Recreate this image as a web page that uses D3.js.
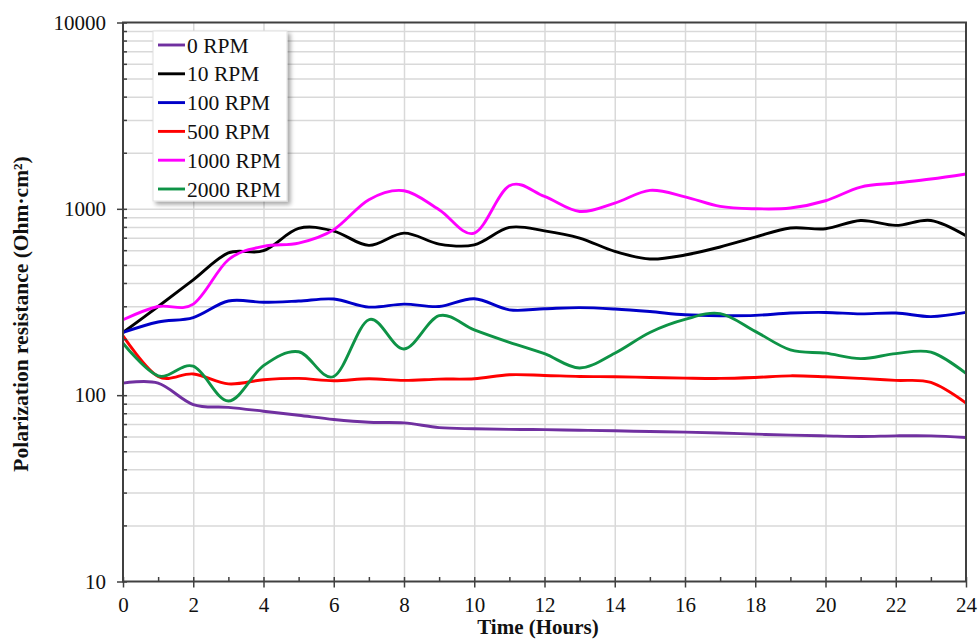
<!DOCTYPE html>
<html>
<head>
<meta charset="utf-8">
<script src="https://cdn.jsdelivr.net/npm/d3@7/dist/d3.min.js"></script>
<style>
html,body{margin:0;padding:0;background:#fff;}
svg{display:block;font-family:"Liberation Serif","Times New Roman",serif;}
</style>
</head>
<body>
<svg id="chart" width="980" height="640"></svg>
<script>
const hours = [0,1,2,3,4,5,6,7,8,9,10,11,12,13,14,15,16,17,18,19,20,21,22,23,24];
const seriesNames = ["0 RPM","10 RPM","100 RPM","500 RPM","1000 RPM","2000 RPM"];
const rpm0    = [116,116,89,86,82,78,74,71.5,71,67,66,65.5,65.3,64.8,64.4,63.8,63.3,62.7,61.8,61,60.5,60,60.5,60.5,59.3];
const rpm10   = [217,299,416,580,596,785,760,637,741,647,641,795,762,697,591,538,565,624,705,789,782,866,815,866,717];
const rpm100  = [217,247,261,320,315,320,328,297,308,299,329,287,291,295,290,281,270,267,268,276,278,273,276,264,278];
const rpm500  = [208,126,130,115,121,123,119.5,122.5,120,122,122.5,128.7,127.6,126,125.5,124.5,123.5,123,124.5,127,125.5,123,120,117,90.7];
const rpm1000 = [254,299,308,533,629,655,773,1120,1250,989,741,1330,1166,968,1073,1256,1160,1030,1001,1010,1105,1309,1375,1445,1538];
const rpm2000 = [190,127,143,93,144,171,126,254,177,267,224,192,167,140,168,217,255,274,220,175,168,157,167,170,131];
const xTicks = [0,2,4,6,8,10,12,14,16,18,20,22,24];
const xMinorTicks = [1,3,5,7,9,11,13,15,17,19,21,23];
const yTicks = [10,100,1000,10000];
const yTitle = "Polarization resistance (Ohm\u00B7cm\u00B2)";
const xTitle = "Time (Hours)";

const colors = ["#7030A0","#000000","#0000C8","#FF0000","#FF00FF","#0E9346"];
const allSeries = [rpm0,rpm10,rpm100,rpm500,rpm1000,rpm2000];

const L = 123, R = 966, T = 22.5, B = 581.5;
const svg = d3.select("#chart");
const x = d3.scaleLinear().domain([0,24]).range([L,R]);
const y = d3.scaleLog().domain([10,10000]).range([B,T]);

// minor log values
const yMinor = [];
[10,100,1000].forEach(d => { for (let k=2;k<=9;k++) yMinor.push(d*k); });

// horizontal grid
svg.append("g").attr("transform",`translate(${L},0)`)
  .call(d3.axisLeft(y).tickValues(yMinor.concat([100,1000])).tickSize(-(R-L)).tickFormat(""))
  .call(g => g.select(".domain").remove())
  .call(g => g.selectAll("line").attr("stroke","#d9d9d9").attr("stroke-width",1.5));
// vertical grid
svg.append("g").attr("transform",`translate(0,${B})`)
  .call(d3.axisBottom(x).tickValues(xTicks.slice(1,-1)).tickSize(-(B-T)).tickFormat(""))
  .call(g => g.select(".domain").remove())
  .call(g => g.selectAll("line").attr("stroke","#d9d9d9").attr("stroke-width",1.5));

// lines
const line = d3.line().x((d,i)=>x(hours[i])).y(d=>y(d)).curve(d3.curveCardinal.tension(0));
allSeries.forEach((s,i)=>{
  svg.append("path").datum(s).attr("d",line).attr("fill","none")
    .attr("stroke",colors[i]).attr("stroke-width",2.9).attr("stroke-linejoin","round");
});

// frame
svg.append("rect").attr("x",L).attr("y",T).attr("width",R-L).attr("height",B-T)
  .attr("fill","none").attr("stroke","#404040").attr("stroke-width",2);

// y axis
svg.append("g").attr("transform",`translate(${L},0)`)
  .call(d3.axisLeft(y).tickValues(yTicks).tickSize(6).tickPadding(11).tickFormat(d3.format("d")))
  .call(g => g.select(".domain").remove())
  .call(g => g.selectAll("line").attr("stroke","#404040").attr("stroke-width",1.5))
  .call(g => g.selectAll("text").attr("font-size",21).attr("fill","#111").attr("font-family","Liberation Serif"));
svg.append("g").attr("transform",`translate(${L},0)`)
  .call(d3.axisRight(y).tickValues(yTicks.concat(yMinor)).tickSize(4).tickFormat(""))
  .call(g => g.select(".domain").remove())
  .call(g => g.selectAll("line").attr("stroke","#404040").attr("stroke-width",1.5));

// x axis
svg.append("g").attr("transform",`translate(0,${B})`)
  .call(d3.axisBottom(x).tickValues(xTicks).tickSize(6).tickPadding(10).tickFormat(d3.format("d")))
  .call(g => g.select(".domain").remove())
  .call(g => g.selectAll("line").attr("stroke","#404040").attr("stroke-width",1.5))
  .call(g => g.selectAll("text").attr("font-size",21).attr("fill","#111").attr("font-family","Liberation Serif"));
svg.append("g").attr("transform",`translate(0,${B})`)
  .call(d3.axisTop(x).tickValues(xTicks.concat(xMinorTicks)).tickSize(4.5).tickFormat(""))
  .call(g => g.select(".domain").remove())
  .call(g => g.selectAll("line").attr("stroke","#404040").attr("stroke-width",1.5));

// titles
svg.append("text").attr("x",538).attr("y",634).attr("text-anchor","middle")
  .attr("font-weight","bold").attr("font-size",21).attr("fill","#111").text(xTitle);
svg.append("text").attr("transform",`translate(28,${314}) rotate(-90)`).attr("text-anchor","middle")
  .attr("font-weight","bold").attr("font-size",21.5).attr("fill","#111").text(yTitle);

// legend
const defs = svg.append("defs");
const f = defs.append("filter").attr("id","shadow").attr("x","-10%").attr("y","-10%").attr("width","130%").attr("height","130%");
f.append("feDropShadow").attr("dx",3).attr("dy",3).attr("stdDeviation",2).attr("flood-color","#000").attr("flood-opacity",0.35);
const lg = svg.append("g");
lg.append("rect").attr("x",153).attr("y",31).attr("width",134).attr("height",170)
  .attr("fill","#fff").attr("stroke","#e0e0e0").attr("stroke-width",1).attr("filter","url(#shadow)");
seriesNames.forEach((n,i)=>{
  const cy = 45 + i*28.8;
  lg.append("line").attr("x1",158).attr("x2",185).attr("y1",cy).attr("y2",cy)
    .attr("stroke",colors[i]).attr("stroke-width",2.9);
  lg.append("text").attr("x",187).attr("y",cy).attr("dy","0.35em").attr("font-size",21.5)
    .attr("fill","#111").text(n);
});
</script>
</body>
</html>
